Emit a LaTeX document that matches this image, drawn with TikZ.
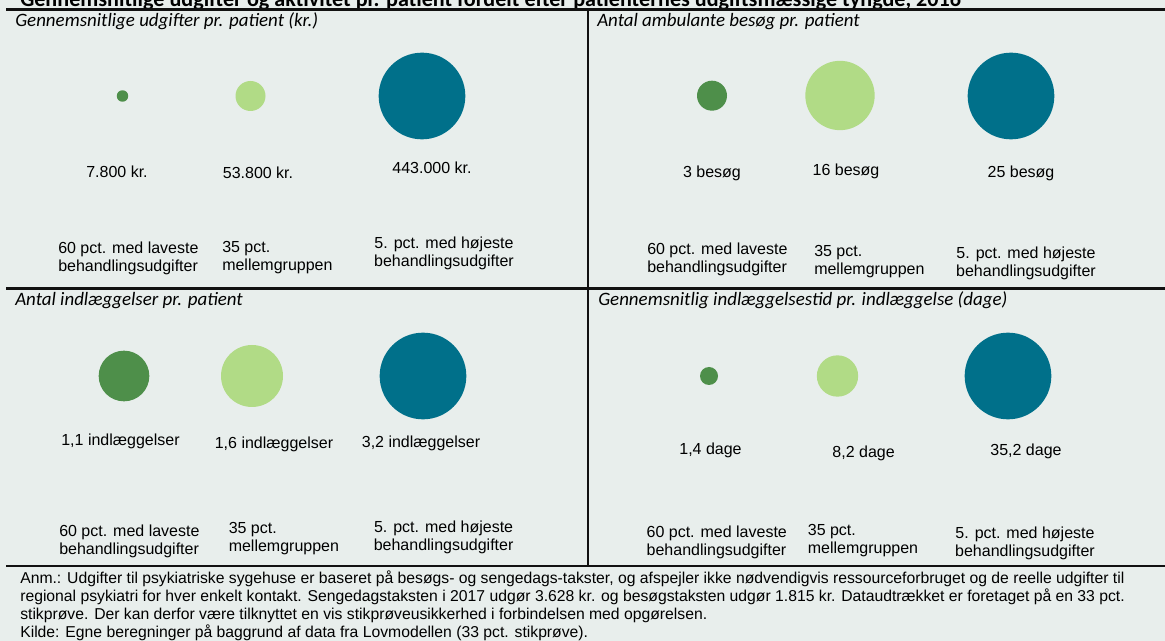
\documentclass[tikz,border=0pt]{standalone}
\usepackage{fontspec}
\setmainfont{Liberation Sans}
\newfontfamily\calibri{Carlito}
\definecolor{bg}{HTML}{E8EEEC}
\definecolor{dgreen}{HTML}{4E8F4A}
\definecolor{lgreen}{HTML}{B1DB86}
\definecolor{teal}{HTML}{00708A}
\definecolor{frame}{HTML}{111111}
\begin{document}
\begin{tikzpicture}[x=0.75pt,y=-0.75pt,
  frameline/.style={draw=frame,line width=1.6pt},
  ptitle/.style={anchor=base west,inner sep=0pt,font=\calibri\itshape\fontsize{14.2}{16}\selectfont},
  bub/.style={circle,inner sep=0pt,draw=none},
  val/.style={anchor=base,inner sep=0pt,font=\fontsize{12}{13.7}\selectfont},
  grpL/.style={anchor=base west,inner sep=0pt,align=left,font=\fontsize{12}{13.7}\selectfont},
  grpC/.style={anchor=base,inner sep=0pt,align=center,font=\fontsize{12}{13.7}\selectfont},
  note/.style={anchor=base west,inner sep=0pt,align=left,font=\fontsize{11.8}{13.5}\selectfont}]
\useasboundingbox (0,0) rectangle (1165,641);
\fill[bg] (0,0) rectangle (1165,641);

% title (cut off at top)
\node[anchor=base west,inner sep=0pt,font=\calibri\bfseries\fontsize{16.6}{18}\selectfont] (title) at (20,6.5)
  {Gennemsnitlige udgifter og aktivitet pr. patient fordelt efter patienternes udgiftsmæssige tyngde, 2016};

% frame
\coordinate (tl) at (6,9.5);
\coordinate (tr) at (1165,9.5);
\coordinate (ml) at (6,288.5);
\coordinate (mr) at (1165,288.5);
\coordinate (bl) at (6,566);
\coordinate (br) at (1165,566);
\coordinate (vt) at (588,9.5);
\coordinate (vb) at (588,566);
\draw[frameline] (tl) -- (tr);
\draw[frameline] (ml) -- (mr);
\draw[frameline] (bl) -- (br);
\draw[frameline] (vt) -- (vb);

% panel titles
\node[ptitle] (t1) at (15,26.5) {Gennemsnitlige udgifter pr. patient (kr.)};
\node[ptitle] (t2) at (597,26.5) {Antal ambulante besøg pr. patient};
\node[ptitle] (t3) at (15,305.5) {Antal indlæggelser pr. patient};
\node[ptitle] (t4) at (598,306) {Gennemsnitlig indlæggelsestid pr. indlæggelse (dage)};

% panel 1
\node[bub,fill=dgreen,minimum size=8.6pt] (a1) at (122.5,96) {};
\node[bub,fill=lgreen,minimum size=22.5pt] (a2) at (250.5,96) {};
\node[bub,fill=teal,minimum size=65pt] (a3) at (422,96) {};
\node[val] (av1) at (117,177.7) {7.800 kr.};
\node[val] (av2) at (258,178.7) {53.800 kr.};
\node[val] (av3) at (432,173.7) {443.000 kr.};
\node[grpL] (ag1) at (58,272) {60 pct. med laveste\\behandlingsudgifter};
\node[grpL] (ag2) at (222,271) {35 pct.\\mellemgruppen};
\node[grpC] (ag3) at (444,266.7) {5. pct. med højeste\\behandlingsudgifter};

% panel 2
\node[bub,fill=dgreen,minimum size=22.5pt] (b1) at (712,95.7) {};
\node[bub,fill=lgreen,minimum size=52pt] (b2) at (840,95.5) {};
\node[bub,fill=teal,minimum size=65pt] (b3) at (1011,96) {};
\node[val] (bv1) at (712,177.4) {3 besøg};
\node[val] (bv2) at (846,175.7) {16 besøg};
\node[val] (bv3) at (1021,177.7) {25 besøg};
\node[grpL] (bg1) at (647,273) {60 pct. med laveste\\behandlingsudgifter};
\node[grpL] (bg2) at (814,274.7) {35 pct.\\mellemgruppen};
\node[grpC] (bg3) at (1026,276.7) {5. pct. med højeste\\behandlingsudgifter};

% panel 3
\node[bub,fill=dgreen,minimum size=38pt] (c1) at (124,376) {};
\node[bub,fill=lgreen,minimum size=46.5pt] (c2) at (252,376) {};
\node[bub,fill=teal,minimum size=65pt] (c3) at (423,376) {};
\node[val] (cv1) at (120.5,446) {1,1 indlæggelser};
\node[val] (cv2) at (274,448.5) {1,6 indlæggelser};
\node[val] (cv3) at (421,447.5) {3,2 indlæggelser};
\node[grpL] (cg1) at (59,554.7) {60 pct. med laveste\\behandlingsudgifter};
\node[grpL] (cg2) at (228.5,551.3) {35 pct.\\mellemgruppen};
\node[grpC] (cg3) at (443.6,550.7) {5. pct. med højeste\\behandlingsudgifter};

% panel 4
\node[bub,fill=dgreen,minimum size=13.5pt] (d1) at (709,376) {};
\node[bub,fill=lgreen,minimum size=31pt] (d2) at (837.5,376) {};
\node[bub,fill=teal,minimum size=65pt] (d3) at (1008,376) {};
\node[val] (dv1) at (710.5,455) {1,4 dage};
\node[val] (dv2) at (863.6,457.5) {8,2 dage};
\node[val] (dv3) at (1026,456) {35,2 dage};
\node[grpL] (dg1) at (646.4,555.7) {60 pct. med laveste\\behandlingsudgifter};
\node[grpL] (dg2) at (807.6,554) {35 pct.\\mellemgruppen};
\node[grpC] (dg3) at (1025,556.7) {5. pct. med højeste\\behandlingsudgifter};

% note
\node[note] (anm) at (20,638) {Anm.: Udgifter til psykiatriske sygehuse er baseret på besøgs- og sengedags-takster, og afspejler ikke nødvendigvis ressourceforbruget og de reelle udgifter til\\
regional psykiatri for hver enkelt kontakt. Sengedagstaksten i 2017 udgør 3.628 kr. og besøgstaksten udgør 1.815 kr. Dataudtrækket er foretaget på en 33 pct.\\
stikprøve. Der kan derfor være tilknyttet en vis stikprøveusikkerhed i forbindelsen med opgørelsen.\\
Kilde: Egne beregninger på baggrund af data fra Lovmodellen (33 pct. stikprøve).};
\end{tikzpicture}
\end{document}
